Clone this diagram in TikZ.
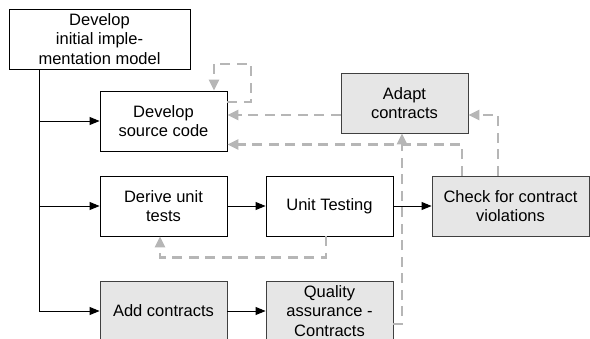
\documentclass[tikz,border=0pt]{standalone}
\usepackage{fontspec}
\setmainfont{Liberation Sans}
\usetikzlibrary{positioning, arrows.meta, calc}
\definecolor{boxgray}{RGB}{230,230,230}
\definecolor{edgegray}{RGB}{64,64,64}
\definecolor{dashgray}{RGB}{182,182,182}

\begin{document}
\begin{tikzpicture}[
    x=1pt, y=-1pt,
    task/.style={draw=black, fill=white, line width=0.9pt, minimum width=127pt, minimum height=60pt, inner sep=0pt, align=center, font=\fontsize{16.5}{19.5}\selectfont},
    contract/.style={task, draw=edgegray, fill=boxgray},
    flow/.style={-{Triangle[length=10pt, width=8pt]}, line width=0.9pt},
    feedback/.style={-{Triangle[length=11pt, width=10pt]}, dashgray, line width=2.5pt, dash pattern=on 10pt off 6.5pt}
]
\useasboundingbox (0,0) rectangle (590,338);
\clip (0,0) rectangle (590,338);

% Tasks
\node[task, minimum width=181pt] (init) at (99.5, 39) {Develop\\initial imple-\\mentation model};
\node[task] (src) at (163.5, 121) {Develop\\source code};
\node[contract] (adapt) at (404.5, 103) {Adapt\\contracts};
\node[task] (derive) at (163.5, 206) {Derive unit\\tests};
\node[task] (unit) at (329.5, 206) {Unit Testing};
\node[contract, minimum width=157pt] (check) at (510.5, 206) {Check for contract\\violations};
\node[contract] (add) at (163.5, 311) {Add contracts};
\node[contract] (qa) at (329.5, 311) {Quality\\assurance -\\Contracts};

% Trunk from the implementation model
\coordinate (tsrc) at (39, 121);
\coordinate (tderive) at (39, 206);
\coordinate (tadd) at (39, 311);
\draw[line width=0.9pt] (init.south -| tadd) -- (tadd);
\draw[flow] (tsrc) -- (src);
\draw[flow] (tderive) -- (derive);
\draw[flow] (tadd) -- (add);

% Feedback paths (drawn first, under the forward arrows)
\coordinate (loop) at (251, 64);
\draw[feedback] ($(src.east)+(0,-19)$) -| (loop) -| ($(src.north)+(50.5,0)$);
\draw[feedback] ($(adapt.west)+(0,12)$) -- ($(src.east)+(0,-6)$);
\draw[feedback] ($(check.north)+(-12.5,0)$) |- ($(adapt.east)+(0,12)$);
\draw[feedback] ($(check.north)+(-48.5,0)$) |- ($(src.east)+(0,23.5)$);
\draw[feedback] ($(qa.east)+(0,13)$) -| ($(adapt.south)+(-2.5,0)$);
\draw[feedback] ($(unit.south)+(-3.5,0)$) -- ++(0,21) -| ($(derive.south)+(-3.5,0)$);

% Forward flow
\draw[flow] (derive) -- (unit);
\draw[flow] (unit) -- (check);
\draw[flow] (add) -- (qa);

\end{tikzpicture}
\end{document}
